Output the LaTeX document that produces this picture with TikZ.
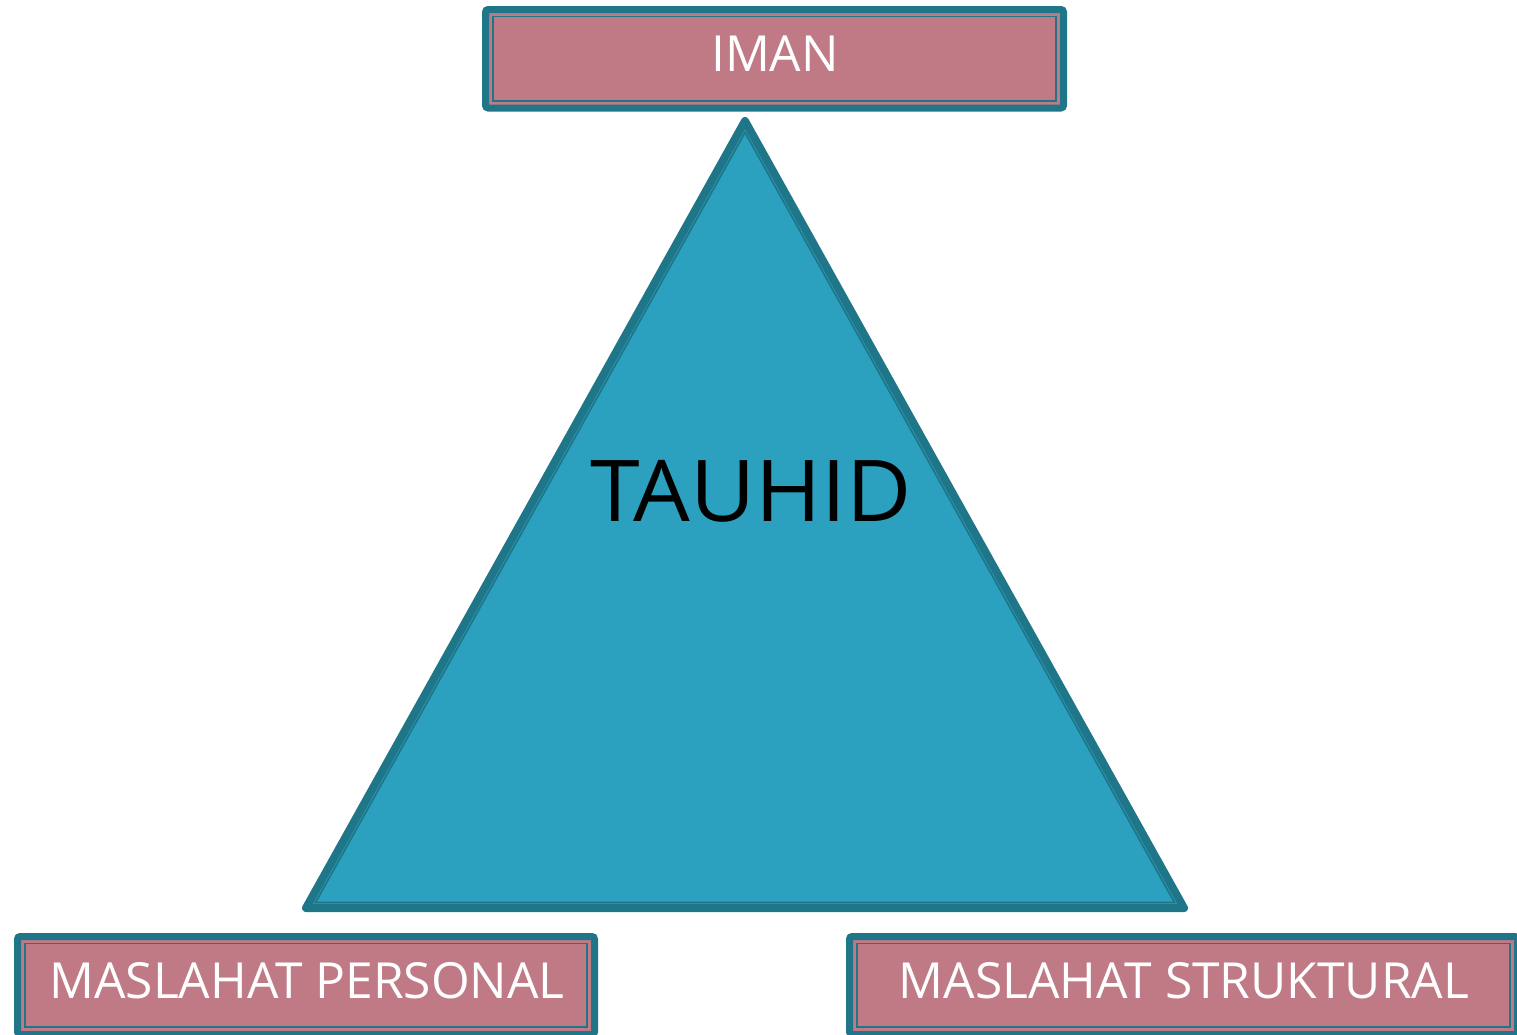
\documentclass[tikz,border=0pt]{standalone}
\usepackage{fontspec}
\setmainfont{Open Sans}
\definecolor{tealdark}{HTML}{1F7689}
\definecolor{tealfill}{HTML}{2CA1BF}
\definecolor{pinkfill}{HTML}{BF7A86}
\tikzset{
  boxouter/.style={draw=tealdark, line width=5.25pt, fill=pinkfill, rounded corners=2pt},
  boxinner/.style={draw=tealdark, line width=1.4pt},
  boxtext/.style={text=white, font=\fontsize{37.3}{40}\selectfont, inner sep=0pt, anchor=base},
  tri/.style={draw=tealdark, line width=6pt, fill=tealfill, line join=round},
  triinner/.style={draw=tealdark, line width=1.3pt, line join=miter},
}
\begin{document}
\begin{tikzpicture}[x=0.75pt,y=-0.75pt]
\useasboundingbox (0,0) rectangle (1517,1035);
\clip (0,0) rectangle (1517,1035);
% triangle
\coordinate (A) at (745,121);
\coordinate (B) at (306,908);
\coordinate (C) at (1184,908);
\draw[tri] (A) -- (B) -- (C) -- cycle;
\coordinate (A2) at (745,132.5);
\coordinate (B2) at (315.5,902.5);
\coordinate (C2) at (1174.5,902.5);
\draw[triinner] (A2) -- (B2) -- (C2) -- cycle;
\node[font=\fontsize{64}{70}\selectfont, text=black, inner sep=0pt, anchor=base, xscale=1.05] (tauhid) at (751,521.7) {TAUHID};
% IMAN box
\draw[boxouter] (485.5,9.5) rectangle (1063.5,108);
\draw[boxinner] (493,16.5) rectangle (1056,101);
\node[boxtext] (iman) at (775,71.7) {IMAN};
% MASLAHAT PERSONAL
\draw[boxouter] (17.5,936.5) rectangle (594.5,1034.5);
\draw[boxinner] (25,943.5) rectangle (587,1027);
\node[boxtext] (personal) at (307,998.3) {MASLAHAT PERSONAL};
% MASLAHAT STRUKTURAL
\draw[boxouter] (849.5,936.5) rectangle (1517.5,1034.5);
\draw[boxinner] (857,943.5) rectangle (1510,1027);
\node[boxtext] (struktural) at (1184,998.3) {MASLAHAT STRUKTURAL};
\end{tikzpicture}
\end{document}
